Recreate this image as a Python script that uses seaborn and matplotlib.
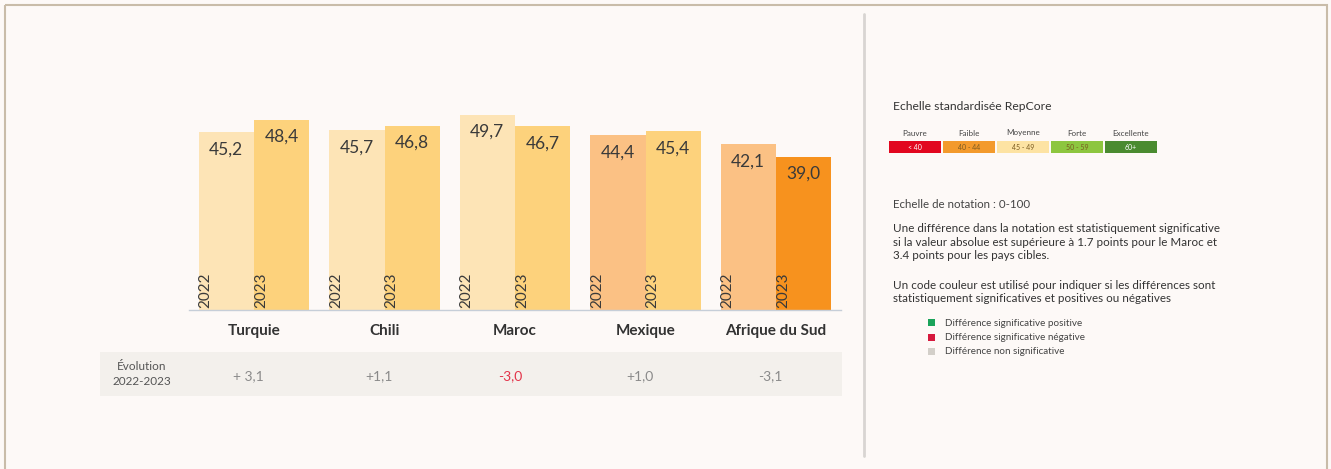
import matplotlib
matplotlib.use('Agg')
import matplotlib.pyplot as plt
import matplotlib.transforms as mtransforms
from matplotlib.patches import Rectangle
import pandas as pd
import seaborn as sns

# Données du graphique
pays = ['Turquie', 'Chili', 'Maroc', 'Mexique', 'Afrique du Sud']
annees = ['2022', '2023']
scores_2022 = [45.2, 45.7, 49.7, 44.4, 42.1]
scores_2023 = [48.4, 46.8, 46.7, 45.4, 39.0]
evolution = ['+ 3,1', '+1,1', '-3,0', '+1,0', '-3,1']
evolution_significative = [False, False, True, False, False]

echelle_noms = ['Pauvre', 'Faible', 'Moyenne', 'Forte', 'Excellente']
echelle_bornes = ['< 40', '40 - 44', '45 - 49', '50 - 59', '60+']

# Couleurs des barres (par année puis par pays)
couleurs_2022 = ['#fde4b6', '#fde4b6', '#fde4b6', '#fbc184', '#fbc184']
couleurs_2023 = ['#fdd27c', '#fdd27c', '#fdd27c', '#fdd27c', '#f7921e']
couleurs_echelle = ['#e2071f', '#f39a2c', '#fde3a3', '#8dc63f', '#4a8b30']

W, H = 1331, 469
FOND = '#fdf9f7'

sns.set_theme(style='white')
plt.rcParams['font.family'] = ['Lato', 'DejaVu Sans']

fig = plt.figure(figsize=(W / 100, H / 100), dpi=100)
fig.patch.set_facecolor(FOND)

# Axe de fond en pixels (origine en haut à gauche)
bg = fig.add_axes([0, 0, 1, 1], zorder=0)
bg.set_xlim(0, W)
bg.set_ylim(H, 0)
bg.axis('off')
bg.add_patch(Rectangle((4.5, 5.5), 1322, 470, fill=False, ec='#c9bca9', lw=1.5,
                       clip_on=False))
bg.plot([864, 864], [14, 456], color='#d8d5d2', lw=2)

# Axe des barres
ax = fig.add_axes([188.75 / W, (H - 310) / H, 652.5 / W, 236 / H], zorder=1)
ax.patch.set_alpha(0)

df = pd.DataFrame({
    'pays': pays * 2,
    'annee': [annees[0]] * len(pays) + [annees[1]] * len(pays),
    'score': scores_2022 + scores_2023,
})
sns.barplot(data=df, x='pays', y='score', hue='annee', width=0.85, gap=0,
            ax=ax, legend=False, errorbar=None)

for conteneur, couleurs, annee in zip(ax.containers, [couleurs_2022, couleurs_2023], annees):
    for barre, c in zip(conteneur, couleurs):
        barre.set_facecolor(c)
        barre.set_edgecolor('none')
        cx = barre.get_x() + barre.get_width() / 2
        h = barre.get_height()
        ax.annotate(f'{h:.1f}'.replace('.', ','), (cx, h), xytext=(0, -17),
                    textcoords='offset pixels', ha='center', va='center',
                    fontsize=12.5, color='#3a3a3a')
        ax.annotate(annee, (barre.get_x(), 0), xytext=(0, 2),
                    textcoords='offset pixels', ha='left', va='bottom',
                    rotation=90, fontsize=11, color='#3a3a3a')

ax.set_xlim(-0.5, len(pays) - 0.5)
ax.set_ylim(0, 60)
ax.set_xlabel('')
ax.set_ylabel('')
ax.set_yticks([])
ax.tick_params(axis='x', length=0, pad=10)
for lab in ax.get_xticklabels():
    lab.set_fontweight('bold')
    lab.set_fontsize(11)
    lab.set_color('#333333')
for s in ['top', 'left', 'right']:
    ax.spines[s].set_visible(False)
ax.spines['bottom'].set_color('#c6ced8')
ax.spines['bottom'].set_linewidth(1)

# Ligne d'évolution 2022-2023
bg.add_patch(Rectangle((100, 352), 742, 44, color='#f3f0ec', lw=0))
bg.text(142, 374, 'Évolution\n2022-2023', ha='center', va='center',
        fontsize=8.5, color='#555555', linespacing=1.35)
trans = mtransforms.blended_transform_factory(ax.transData, bg.transData)
for i, (txt, sig) in enumerate(zip(evolution, evolution_significative)):
    ax.text(i - 0.04, 376, txt, transform=trans, ha='center', va='center',
            fontsize=10, color='#e3344a' if sig else '#8a8a8a', clip_on=False)

# Panneau de droite : échelle et notes
bg.text(893, 106, 'Echelle standardisée RepCore', ha='left', va='center',
        fontsize=8.7, color='#333333')
for k, (nom, borne, c) in enumerate(zip(echelle_noms, echelle_bornes, couleurs_echelle)):
    x0 = 889 + k * 54
    bg.add_patch(Rectangle((x0, 141), 52, 12, color=c, lw=0))
    bg.text(x0 + 26, 133, nom, ha='center', va='center', fontsize=5.8, color='#444444')
    bg.text(x0 + 26, 147, borne, ha='center', va='center', fontsize=5,
            color='white' if k in (0, 4) else '#7a5a20')

bg.text(893, 205, 'Echelle de notation : 0-100', ha='left', va='center',
        fontsize=8.3, color='#444444')
bg.text(893, 242,
        'Une différence dans la notation est statistiquement significative\n'
        'si la valeur absolue est supérieure à 1.7 points pour le Maroc et\n'
        '3.4 points pour les pays cibles.',
        ha='left', va='center', fontsize=8.4, color='#333333', linespacing=1.25)
bg.text(893, 292,
        'Un code couleur est utilisé pour indiquer si les différences sont\n'
        'statistiquement significatives et positives ou négatives',
        ha='left', va='center', fontsize=8.4, color='#333333', linespacing=1.25)

legende = [('#1aa35a', 'Différence significative positive'),
           ('#d6193d', 'Différence significative négative'),
           ('#d3cfc9', 'Différence non significative')]
for k, (c, txt) in enumerate(legende):
    y = 323 + k * 14.5
    bg.add_patch(Rectangle((928, y - 3.5), 7, 7, color=c, lw=0))
    bg.text(945, y, txt, ha='left', va='center', fontsize=7.1, color='#444444')

fig.savefig('out.png', dpi=100, facecolor=FOND)
